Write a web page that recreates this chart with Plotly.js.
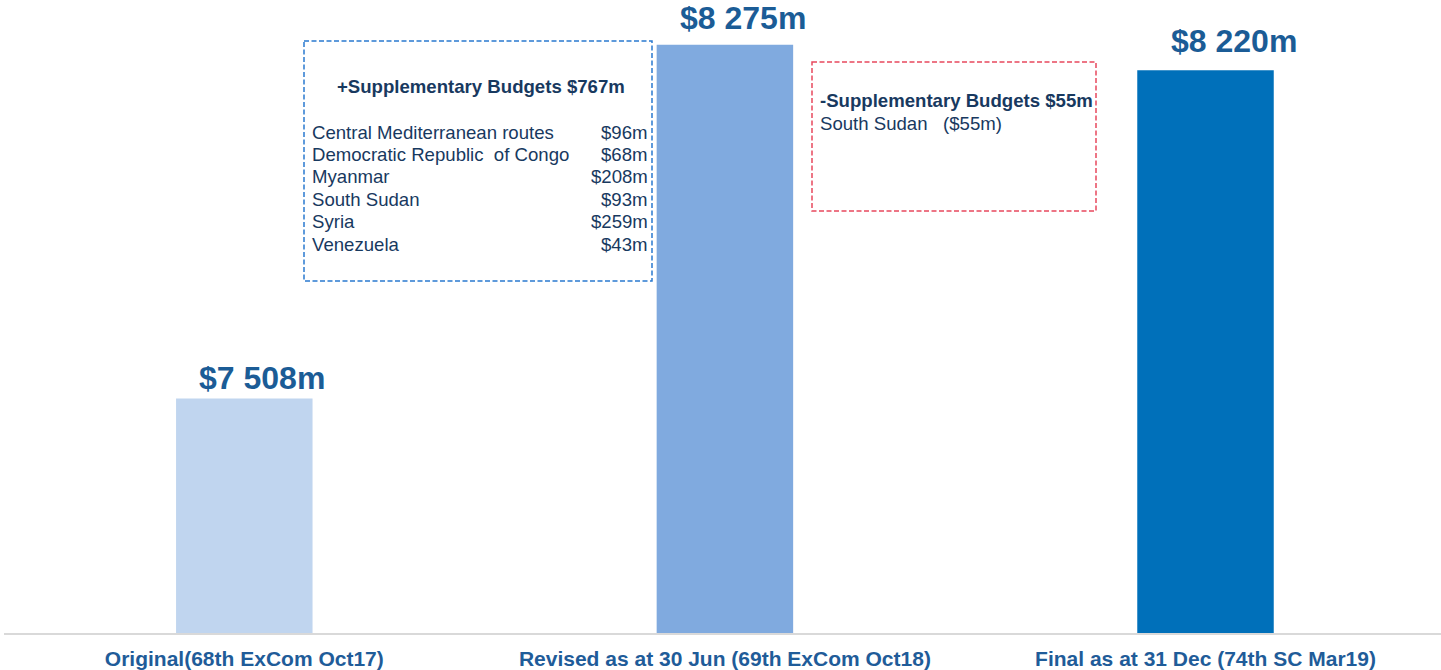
<!DOCTYPE html>
<html>
<head>
<meta charset="utf-8">
<script src="https://cdn.plot.ly/plotly-3.0.1.min.js"></script>
<style>html,body{margin:0;padding:0;background:#fff;}#chart{width:1441px;height:670px;}</style>
</head>
<body>
<div id="chart"></div>
<script>
// ---- data ----
const categories = ["Original(68th ExCom Oct17)", "Revised as at 30 Jun (69th ExCom Oct18)", "Final as at 31 Dec (74th SC Mar19)"];
const budgets = [7508, 8275, 8220];
const increaseTitle = "+Supplementary Budgets $767m";
const increaseCountries = ["Central Mediterranean routes", "Democratic Republic  of Congo", "Myanmar", "South Sudan", "Syria", "Venezuela"];
const increaseAmounts = ["$96m", "$68m", "$208m", "$93m", "$259m", "$43m"];
const decreaseTitle = "-Supplementary Budgets $55m";
const decreaseCountries = ["South Sudan"];
const decreaseAmounts = ["($55m)"];

// ---- styles ----
const barColors = ["#C0D5EF", "#80AADF", "#0070BA"];
const labelXShift = [18, 18, 28];
const labelYShift = [1, 7, 9];
const W = 1441, H = 670, ML = 4, MR = 0, MT = 0, MB = 37;
const PW = W - ML - MR, PH = H - MT - MB;
const px = x => (x - ML) / PW;
const py = y => (H - MB - y) / PH;
const fmt = v => "$" + String(v).replace(/\B(?=(\d{3})+(?!\d))/g, " ") + "m";
const navy = "#18395F";
const BODY = "Liberation Sans, Arial, sans-serif";
const BOX = 18.6;

const annotations = [];
// value labels
categories.forEach((c, i) => {
  annotations.push({
    x: c, y: budgets[i], xref: "x", yref: "y",
    text: "<b>" + fmt(budgets[i]) + "</b>", showarrow: false,
    xanchor: "center", yanchor: "bottom", xshift: labelXShift[i], yshift: labelYShift[i],
    font: {family: BODY, size: 32, color: "#1B5C96"}
  });
});
// blue box text
annotations.push({x: px(481), y: py(87), xref: "paper", yref: "paper", showarrow: false,
  xanchor: "center", yanchor: "middle", text: "<b>" + increaseTitle + "</b>",
  font: {family: BODY, size: BOX, color: navy}});
const lineH = 22.4;
increaseCountries.forEach((c, i) => {
  annotations.push({x: px(310), y: py(132 + i * lineH), xref: "paper", yref: "paper", showarrow: false,
    xanchor: "left", yanchor: "middle", text: c.replace(/  /g, " &nbsp;"),
    font: {family: BODY, size: BOX, color: navy}});
  annotations.push({x: px(650), y: py(132 + i * lineH), xref: "paper", yref: "paper", showarrow: false,
    xanchor: "right", yanchor: "middle", text: increaseAmounts[i],
    font: {family: BODY, size: BOX, color: navy}});
});
// red box text
annotations.push({x: px(818), y: py(101), xref: "paper", yref: "paper", showarrow: false,
  xanchor: "left", yanchor: "middle", text: "<b>" + decreaseTitle + "</b>",
  font: {family: BODY, size: BOX, color: navy}});
decreaseCountries.forEach((c, i) => {
  annotations.push({x: px(818), y: py(123 + i * lineH), xref: "paper", yref: "paper", showarrow: false,
    xanchor: "left", yanchor: "middle", text: c + " &nbsp; " + decreaseAmounts[i],
    font: {family: BODY, size: BOX, color: navy}});
});

const shapes = [
  {type: "rect", xref: "paper", yref: "paper", x0: px(304), x1: px(652), y0: py(41), y1: py(281),
   line: {color: "#2A7AD0", width: 1.5, dash: "5px,2.5px"}, fillcolor: "rgba(0,0,0,0)", layer: "above"},
  {type: "rect", xref: "paper", yref: "paper", x0: px(812), x1: px(1096), y0: py(62), y1: py(211),
   line: {color: "#E8485E", width: 1.5, dash: "5px,2.5px"}, fillcolor: "rgba(0,0,0,0)", layer: "above"}
];

const trace = {
  type: "bar", x: categories, y: budgets, base: 0,
  marker: {color: barColors, line: {width: 0}},
  hoverinfo: "skip"
};

const layout = {
  width: W, height: H,
  margin: {l: ML, r: MR, t: MT, b: MB, pad: 0},
  paper_bgcolor: "#fff", plot_bgcolor: "#fff",
  showlegend: false,
  bargap: 0.716,
  xaxis: {
    range: [-0.5, 2.49],
    showline: true, linecolor: "#D9D9D9", linewidth: 2, ticks: "", showgrid: false, zeroline: false,
    tickfont: {family: BODY, size: 21, color: "#1F5C99", weight: "bold"},
    ticklabelstandoff: 6
  },
  yaxis: {range: [7000, 8372], visible: false, showgrid: false, zeroline: false, fixedrange: true},
  annotations: annotations,
  shapes: shapes
};

Plotly.newPlot("chart", [trace], layout, {staticPlot: true, displayModeBar: false});
</script>
</body>
</html>
